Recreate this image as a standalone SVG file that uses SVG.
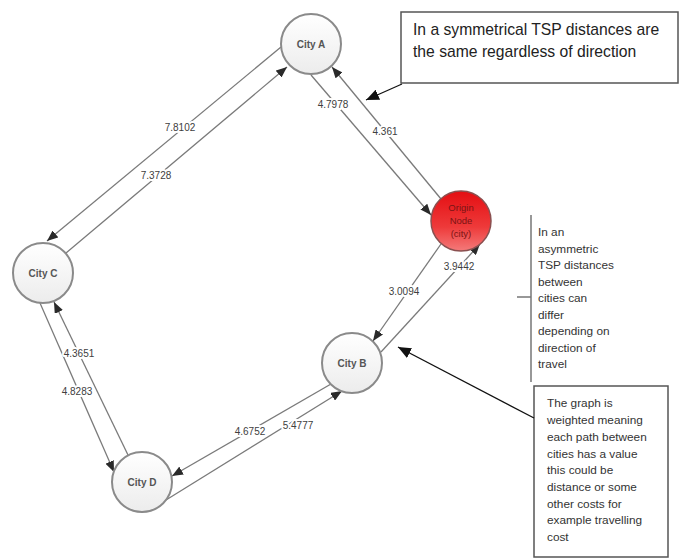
<svg xmlns="http://www.w3.org/2000/svg" width="679" height="558" viewBox="0 0 679 558">
<defs>
<linearGradient id="gNode" x1="0" y1="0" x2="0" y2="1">
<stop offset="0" stop-color="#ffffff"/>
<stop offset="1" stop-color="#ececec"/>
</linearGradient>
<linearGradient id="gOrigin" x1="0" y1="0" x2="0" y2="1">
<stop offset="0" stop-color="#e40e12"/>
<stop offset="0.6" stop-color="#ee3a3a"/>
<stop offset="1" stop-color="#f47a7a"/>
</linearGradient>
<marker id="arr" markerUnits="userSpaceOnUse" markerWidth="12" markerHeight="9" refX="11" refY="4.5" orient="auto">
<path d="M0,0 L11,4.5 L0,9 z" fill="#2a2a2a"/>
</marker>
<marker id="arrBig" markerUnits="userSpaceOnUse" markerWidth="14" markerHeight="11" refX="13" refY="5.5" orient="auto">
<path d="M0,0 L13,5.5 L0,11 z" fill="#111"/>
</marker>
</defs>
<style>
.node{fill:url(#gNode);stroke:#8a8a8a;stroke-width:2}
.origin{fill:url(#gOrigin);stroke:#8a5050;stroke-width:1.5}
.nl{font-family:"Liberation Sans",Arial,sans-serif;font-size:10px;font-weight:bold;fill:#555;text-anchor:middle}
.ol{font-family:"Liberation Sans",Arial,sans-serif;font-size:9.5px;fill:#7a1414;text-anchor:middle}
.edge{stroke:#7a7a7a;stroke-width:1.3;fill:none;marker-end:url(#arr)}
.el{font-family:"Liberation Sans",Arial,sans-serif;font-size:10px;fill:#404040;text-anchor:middle;stroke:#fff;stroke-width:4;paint-order:stroke;stroke-linejoin:round}
.box{fill:#fff;stroke:#555;stroke-width:1.5}
.t1{font-family:"Liberation Sans",Arial,sans-serif;font-size:15.7px;fill:#222}
.t2{font-family:"Liberation Sans",Arial,sans-serif;font-size:11.8px;fill:#333}
.call{stroke:#111;stroke-width:1.3;fill:none;marker-end:url(#arrBig)}
.brk{stroke:#777;stroke-width:1.5;fill:none}
</style>

<g id="connectors">
<line class="edge" x1="281" y1="47" x2="47" y2="241"/>
<line class="edge" x1="66" y1="253" x2="287" y2="67"/>
<line class="edge" x1="311" y1="75" x2="431" y2="215"/>
<line class="edge" x1="441" y1="199" x2="332" y2="67"/>
<line class="edge" x1="441" y1="244" x2="373" y2="341"/>
<line class="edge" x1="381" y1="352" x2="480" y2="244"/>
<line class="edge" x1="331" y1="384" x2="172" y2="476"/>
<line class="edge" x1="166" y1="500" x2="342" y2="391"/>
<line class="edge" x1="40" y1="303" x2="114" y2="472"/>
<line class="edge" x1="128" y1="455" x2="54" y2="302"/>
<text class="el" x="180" y="131">7.8102</text>
<text class="el" x="156" y="179">7.3728</text>
<text class="el" x="333" y="108">4.7978</text>
<text class="el" x="385" y="135">4.361</text>
<text class="el" x="404" y="295">3.0094</text>
<text class="el" x="459" y="270">3.9442</text>
<text class="el" x="250" y="435">4.6752</text>
<text class="el" x="298" y="429">5.4777</text>
<text class="el" x="79" y="357">4.3651</text>
<text class="el" x="77" y="395">4.8283</text>
</g>

<g id="cityA">
<circle class="node" cx="311" cy="44" r="30"/>
<text class="nl" x="311" y="47.5">City A</text>
</g>
<g id="origin">
<circle class="origin" cx="461" cy="221" r="30"/>
<text class="ol" x="461" y="211">Origin</text>
<text class="ol" x="461" y="224">Node</text>
<text class="ol" x="461" y="237">(city)</text>
</g>
<g id="cityC">
<circle class="node" cx="43" cy="273" r="30"/>
<text class="nl" x="43" y="276.5">City C</text>
</g>
<g id="cityB">
<circle class="node" cx="352" cy="363" r="30"/>
<text class="nl" x="352" y="366.5">City B</text>
</g>
<g id="cityD">
<circle class="node" cx="142" cy="482" r="30"/>
<text class="nl" x="142" y="485.5">City D</text>
</g>

<g id="note-symmetric">
<rect class="box" x="401" y="12" width="277" height="71"/>
<text class="t1" x="413" y="35">In a symmetrical TSP distances are</text>
<text class="t1" x="413" y="57">the same regardless of direction</text>
<line class="call" x1="402" y1="84" x2="366" y2="100"/>
</g>

<g id="note-asymmetric">
<path class="brk" d="M531 215 V382 M517 297 H531"/>
<text class="t2" x="538" y="236">In an</text>
<text class="t2" x="538" y="252.5">asymmetric</text>
<text class="t2" x="538" y="269">TSP distances</text>
<text class="t2" x="538" y="285.5">between</text>
<text class="t2" x="538" y="302">cities can</text>
<text class="t2" x="538" y="318.5">differ</text>
<text class="t2" x="538" y="335">depending on</text>
<text class="t2" x="538" y="351.5">direction of</text>
<text class="t2" x="538" y="368">travel</text>
</g>

<g id="note-weighted">
<rect class="box" x="534" y="386" width="134" height="171"/>
<text class="t2" x="547" y="407">The graph is</text>
<text class="t2" x="547" y="424">weighted meaning</text>
<text class="t2" x="547" y="441">each path between</text>
<text class="t2" x="547" y="457.5">cities has a value</text>
<text class="t2" x="547" y="474">this could be</text>
<text class="t2" x="547" y="491">distance or some</text>
<text class="t2" x="547" y="507.5">other costs for</text>
<text class="t2" x="547" y="524">example travelling</text>
<text class="t2" x="547" y="541">cost</text>
<line class="call" x1="534" y1="418" x2="398" y2="347"/>
</g>
</svg>
